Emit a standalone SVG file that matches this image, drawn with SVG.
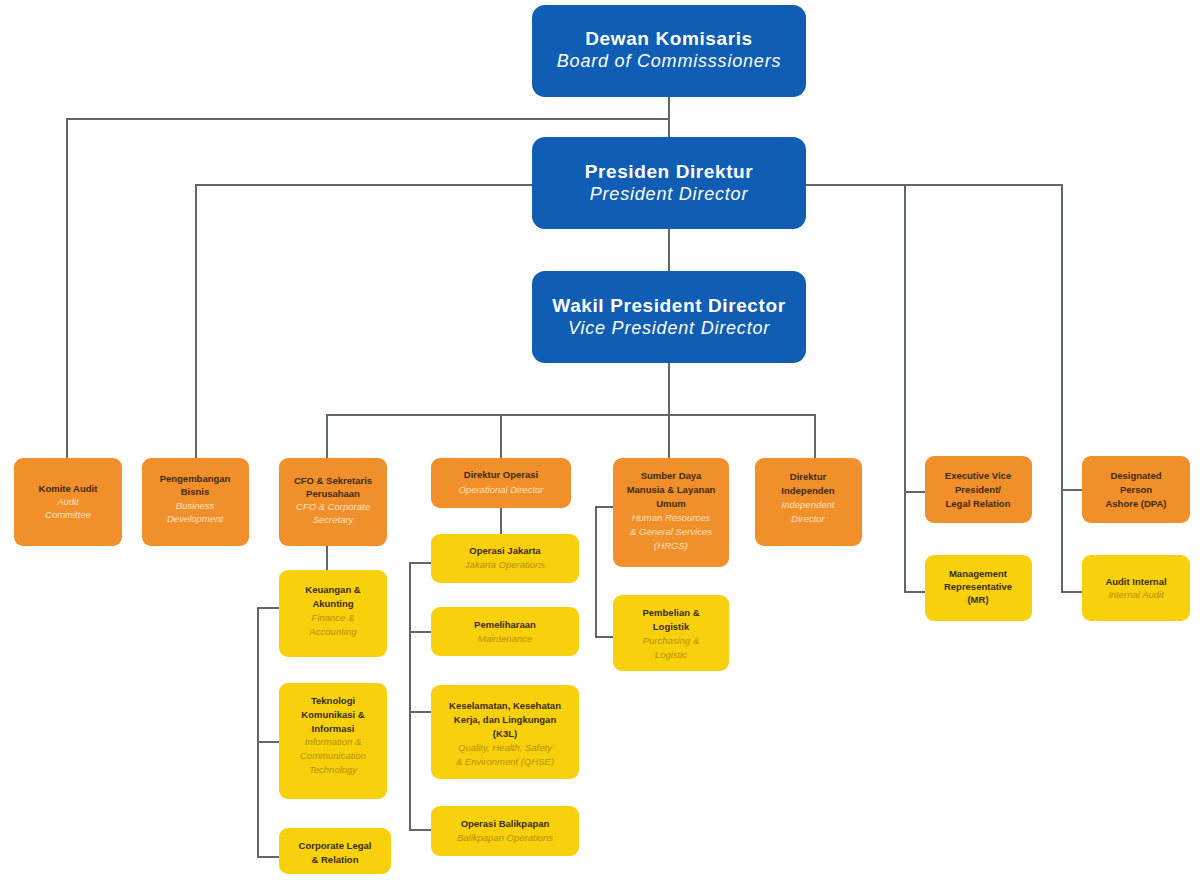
<svg xmlns="http://www.w3.org/2000/svg" width="1200" height="888" viewBox="0 0 1200 888">
<style>
.bg{fill:#ffffff}
.blue{fill:#0f5db4}
.org{fill:#f18f2a}
.yel{fill:#f8d10c}
.ln{fill:none;stroke:#5f6670;stroke-width:2}
.bt{font-family:"Liberation Sans",Arial,sans-serif;font-size:19px;font-weight:bold;fill:#ffffff;text-anchor:middle;letter-spacing:0.6px}
.bi{font-family:"Liberation Sans",Arial,sans-serif;font-size:18px;font-style:italic;fill:#ffffff;text-anchor:middle;letter-spacing:0.8px}
.t{font-family:"Liberation Sans",Arial,sans-serif;font-size:9.5px;font-weight:bold;fill:#3b2a12;text-anchor:middle}
.io{font-family:"Liberation Sans",Arial,sans-serif;font-size:9.5px;font-style:italic;fill:#fde3bf;text-anchor:middle}
.iy{font-family:"Liberation Sans",Arial,sans-serif;font-size:9.5px;font-style:italic;fill:#b58f00;text-anchor:middle}
</style>
<rect class="bg" x="0" y="0" width="1200" height="888"/>
<g id="connectors">
<path class="ln" d="M669 97V137M669 119H67V460"/>
<path class="ln" d="M532 185H196V460"/>
<path class="ln" d="M806 185H1062V592H1082M905 185V592H925M905 492H925M1062 490H1082"/>
<path class="ln" d="M669 229V271M669 363V415M327 460V415H815V460M501 415V460M669 415V460"/>
<path class="ln" d="M327 546V570M279 608H258V857H279M258 742H279"/>
<path class="ln" d="M501 508V535M431 563H410V830H431M410 632H431M410 712H431"/>
<path class="ln" d="M613 507H596V637H613"/>
</g>
<g id="dewan"><rect class="blue" x="532" y="5" width="274" height="92" rx="13"/><text class="bt" x="669" y="45">Dewan Komisaris</text><text class="bi" x="669" y="67">Board of Commisssioners</text></g>
<g id="presiden"><rect class="blue" x="532" y="137" width="274" height="92" rx="13"/><text class="bt" x="669" y="178">Presiden Direktur</text><text class="bi" x="669" y="200">President Director</text></g>
<g id="wakil"><rect class="blue" x="532" y="271" width="274" height="92" rx="13"/><text class="bt" x="669" y="312">Wakil President Director</text><text class="bi" x="669" y="334">Vice President Director</text></g>
<g id="komite-audit"><rect class="org" x="14" y="458" width="108" height="88" rx="9"/><text class="t" x="68" y="492">Komite Audit</text><text class="io" x="68" y="505">Audit</text><text class="io" x="68" y="518">Committee</text></g>
<g id="pengembangan"><rect class="org" x="142" y="458" width="107" height="88" rx="9"/><text class="t" x="195" y="482">Pengembangan</text><text class="t" x="195" y="495">Bisnis</text><text class="io" x="195" y="509">Business</text><text class="io" x="195" y="522">Development</text></g>
<g id="cfo"><rect class="org" x="279" y="458" width="108" height="88" rx="9"/><text class="t" x="333" y="484">CFO &amp; Sekretaris</text><text class="t" x="333" y="497">Perusahaan</text><text class="io" x="333" y="510">CFO &amp; Corporate</text><text class="io" x="333" y="523">Secretary</text></g>
<g id="dir-operasi"><rect class="org" x="431" y="458" width="140" height="50" rx="9"/><text class="t" x="501" y="478">Direktur Operasi</text><text class="io" x="501" y="493">Operational Director</text></g>
<g id="sdm"><rect class="org" x="613" y="458" width="116" height="109" rx="9"/><text class="t" x="671" y="479">Sumber Daya</text><text class="t" x="671" y="493">Manusia &amp; Layanan</text><text class="t" x="671" y="507">Umum</text><text class="io" x="671" y="521">Human Resources</text><text class="io" x="671" y="535">&amp; General Services</text><text class="io" x="671" y="549">(HRGS)</text></g>
<g id="dir-independen"><rect class="org" x="755" y="458" width="107" height="88" rx="9"/><text class="t" x="808" y="480">Direktur</text><text class="t" x="808" y="494">Independen</text><text class="io" x="808" y="508">Independent</text><text class="io" x="808" y="522">Director</text></g>
<g id="evp"><rect class="org" x="925" y="456" width="107" height="67" rx="9"/><text class="t" x="978" y="479">Executive Vice</text><text class="t" x="978" y="493">President/</text><text class="t" x="978" y="507">Legal Relation</text></g>
<g id="dpa"><rect class="org" x="1082" y="456" width="108" height="67" rx="9"/><text class="t" x="1136" y="479">Designated</text><text class="t" x="1136" y="493">Person</text><text class="t" x="1136" y="507">Ashore (DPA)</text></g>
<g id="mr"><rect class="yel" x="925" y="555" width="107" height="66" rx="9"/><text class="t" x="978" y="577">Management</text><text class="t" x="978" y="590">Representative</text><text class="t" x="978" y="603">(MR)</text></g>
<g id="audit-internal"><rect class="yel" x="1082" y="555" width="108" height="66" rx="9"/><text class="t" x="1136" y="585">Audit Internal</text><text class="iy" x="1136" y="598">Internal Audit</text></g>
<g id="keuangan"><rect class="yel" x="279" y="570" width="108" height="87" rx="9"/><text class="t" x="333" y="593">Keuangan &amp;</text><text class="t" x="333" y="607">Akunting</text><text class="iy" x="333" y="621">Finance &amp;</text><text class="iy" x="333" y="635">Accounting</text></g>
<g id="teknologi"><rect class="yel" x="279" y="683" width="108" height="116" rx="9"/><text class="t" x="333" y="704">Teknologi</text><text class="t" x="333" y="718">Komunikasi &amp;</text><text class="t" x="333" y="732">Informasi</text><text class="iy" x="333" y="745">Information &amp;</text><text class="iy" x="333" y="759">Communication</text><text class="iy" x="333" y="773">Technology</text></g>
<g id="corporate-legal"><rect class="yel" x="279" y="828" width="112" height="46" rx="9"/><text class="t" x="335" y="849">Corporate Legal</text><text class="t" x="335" y="863">&amp; Relation</text></g>
<g id="operasi-jakarta"><rect class="yel" x="431" y="534" width="148" height="49" rx="9"/><text class="t" x="505" y="554">Operasi Jakarta</text><text class="iy" x="505" y="568">Jakarta Operations</text></g>
<g id="pemeliharaan"><rect class="yel" x="431" y="607" width="148" height="49" rx="9"/><text class="t" x="505" y="628">Pemeliharaan</text><text class="iy" x="505" y="642">Maintenance</text></g>
<g id="k3l"><rect class="yel" x="431" y="685" width="148" height="94" rx="9"/><text class="t" x="505" y="709">Keselamatan, Kesehatan</text><text class="t" x="505" y="723">Kerja, dan Lingkungan</text><text class="t" x="505" y="737">(K3L)</text><text class="iy" x="505" y="751">Quality, Health, Safety</text><text class="iy" x="505" y="765">&amp; Environment (QHSE)</text></g>
<g id="operasi-balikpapan"><rect class="yel" x="431" y="806" width="148" height="50" rx="9"/><text class="t" x="505" y="827">Operasi Balikpapan</text><text class="iy" x="505" y="841">Balikpapan Operations</text></g>
<g id="pembelian"><rect class="yel" x="613" y="595" width="116" height="76" rx="9"/><text class="t" x="671" y="616">Pembelian &amp;</text><text class="t" x="671" y="630">Logistik</text><text class="iy" x="671" y="644">Purchasing &amp;</text><text class="iy" x="671" y="658">Logistic</text></g>
</svg>
